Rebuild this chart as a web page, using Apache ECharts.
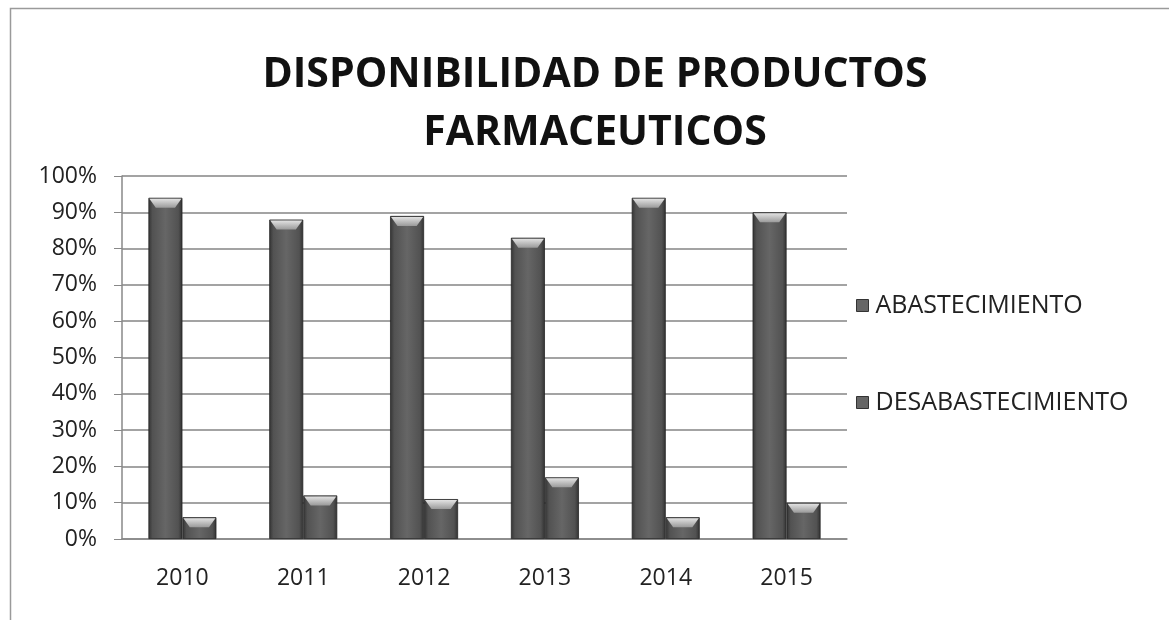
<!DOCTYPE html>
<html>
<head>
<meta charset="utf-8">
<script src="https://cdn.jsdelivr.net/npm/echarts@6/dist/echarts.min.js"></script>
<style>
html,body{margin:0;padding:0;background:#fff;}
#c{width:1169px;height:620px;}
</style>
</head>
<body>
<div id="c"></div>
<script>
var categories = ['2010', '2011', '2012', '2013', '2014', '2015'];
var abastecimiento = [94, 88, 89, 83, 94, 90];
var desabastecimiento = [6, 12, 11, 17, 6, 10];
var yTicks = [0, 10, 20, 30, 40, 50, 60, 70, 80, 90, 100];
var seriesNames = ['ABASTECIMIENTO', 'DESABASTECIMIENTO'];

var chart = echarts.init(document.getElementById('c'));
var bodyFill = new echarts.graphic.LinearGradient(0, 0, 1, 0, [
  {offset: 0, color: '#333333'},
  {offset: 0.12, color: '#525252'},
  {offset: 0.5, color: '#666666'},
  {offset: 0.88, color: '#525252'},
  {offset: 1, color: '#313131'}
]);
var topFill = new echarts.graphic.LinearGradient(0, 0, 0, 1, [
  {offset: 0, color: '#e2e2e2'},
  {offset: 1, color: '#9a9a9a'}
]);
var bevelPath = 'path://M0,0 L100,0 L80,100 L20,100 Z';
var fontFam = '"Open Sans", "Noto Sans", sans-serif';
var BW = 34;

function barSeries(name, data) {
  return {
    name: name, type: 'bar', data: data, barWidth: BW, barGap: '0%',
    itemStyle: {color: bodyFill, borderColor: '#262626', borderWidth: 0.8},
    z: 2
  };
}
function bevelSeries(name, data) {
  return {
    name: name, type: 'pictorialBar', data: data, barWidth: BW, barGap: '0%',
    symbol: bevelPath, symbolSize: [BW - 2, 9], symbolPosition: 'end',
    symbolOffset: [0, 1],
    itemStyle: {color: topFill}, z: 3, silent: true, legendHoverLink: false
  };
}

chart.setOption({
  animation: false,
  backgroundColor: '#fff',
  graphic: [{
    type: 'rect', left: 8, top: 6, silent: true,
    shape: {width: 1300, height: 700},
    style: {fill: 'none', stroke: '#9a9a9a', lineWidth: 1.5}
  }],
  title: {
    text: 'DISPONIBILIDAD DE PRODUCTOS\nFARMACEUTICOS',
    left: 590, textAlign: 'center', top: 41,
    textStyle: {fontFamily: fontFam, fontWeight: 'bold', fontSize: 41, lineHeight: 58, color: '#111'}
  },
  legend: {
    orient: 'vertical', left: 851, top: 288, itemGap: 72,
    itemWidth: 12, itemHeight: 12, icon: 'rect',
    data: seriesNames,
    itemStyle: {color: '#666', borderColor: '#333', borderWidth: 1},
    textStyle: {fontFamily: fontFam, fontSize: 25, color: '#222', padding: [0, 0, 0, 2]}
  },
  grid: {left: 122, right: 322, top: 176, bottom: 81, containLabel: false},
  xAxis: {
    type: 'category', data: categories,
    axisLine: {show: true, lineStyle: {color: '#888', width: 1.5}},
    axisTick: {show: false},
    axisLabel: {fontFamily: fontFam, fontSize: 23, color: '#222', margin: 28}
  },
  yAxis: {
    type: 'value', min: 0, max: 100, interval: 10,
    axisLine: {show: true, lineStyle: {color: '#888', width: 1.5}},
    axisTick: {show: true, length: 8, lineStyle: {color: '#888'}},
    splitLine: {show: true, lineStyle: {color: '#858585', width: 1.5}},
    axisLabel: {fontFamily: fontFam, fontSize: 23, color: '#222', margin: 25,
      formatter: function (v) { return yTicks.indexOf(v) >= 0 ? v + '%' : ''; }}
  },
  series: [
    barSeries(seriesNames[0], abastecimiento),
    barSeries(seriesNames[1], desabastecimiento),
    bevelSeries(seriesNames[0], abastecimiento),
    bevelSeries(seriesNames[1], desabastecimiento)
  ]
});
</script>
</body>
</html>
